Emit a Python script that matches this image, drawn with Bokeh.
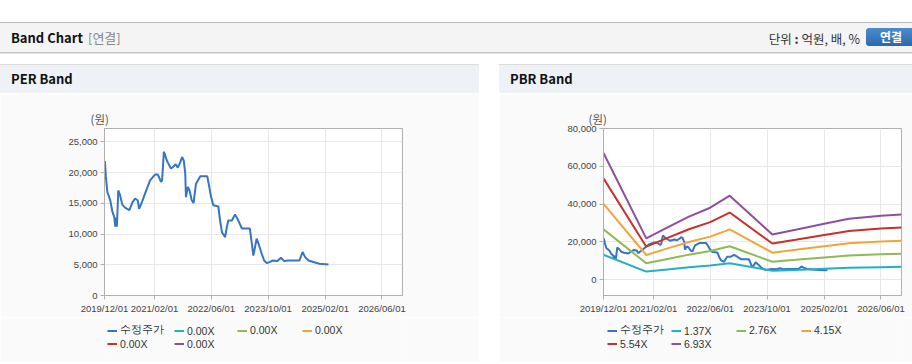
from datetime import datetime
import numpy as np
import pandas as pd
from bokeh.plotting import figure
from bokeh.models import (Range1d, FixedTicker, NumeralTickFormatter, Legend,
                          LegendItem, Div, Spacer)
from bokeh.layouts import column, row
from bokeh.embed import file_html
from bokeh.resources import INLINE

# ---------------- data ----------------
x_tick_labels = ["2019/12/01", "2021/02/01", "2022/06/01", "2023/10/01", "2025/02/01", "2026/06/01"]
x_start = "2019/12/01"
x_end = "2026/11/24"

per_y_ticks = [0, 5000, 10000, 15000, 20000, 25000]
pbr_y_ticks = [0, 20000, 40000, 60000, 80000]

price_label = "수정주가"
price_dates = [
    "2019-12-04", "2019-12-13", "2019-12-25", "2020-01-19", "2020-02-07", "2020-02-22",
    "2020-03-02", "2020-03-07", "2020-03-16", "2020-03-28", "2020-04-13", "2020-05-01",
    "2020-05-25", "2020-07-01", "2020-07-28", "2020-08-19", "2020-09-10", "2020-09-22",
    "2020-10-16", "2020-11-22", "2020-12-25", "2021-02-07", "2021-02-28", "2021-03-13",
    "2021-03-28", "2021-04-07", "2021-04-22", "2021-05-04", "2021-05-16", "2021-06-22",
    "2021-07-13", "2021-08-01", "2021-08-19", "2021-09-10", "2021-09-25", "2021-10-10",
    "2021-10-22", "2021-10-28", "2021-11-13", "2021-11-28", "2021-12-16", "2022-01-01",
    "2022-01-13", "2022-01-22", "2022-02-28", "2022-04-28", "2022-05-16", "2022-05-28",
    "2022-06-19", "2022-08-01", "2022-08-16", "2022-09-01", "2022-09-28", "2022-10-13",
    "2022-10-25", "2022-11-25", "2022-12-22", "2023-01-19", "2023-02-19", "2023-04-28",
    "2023-05-13", "2023-05-28", "2023-06-25", "2023-07-16", "2023-08-07", "2023-08-28",
    "2023-09-19", "2023-10-13", "2023-11-10", "2023-12-19", "2024-01-19", "2024-02-16",
    "2024-03-22", "2024-06-25", "2024-07-22", "2024-08-13", "2024-09-10", "2024-10-22",
    "2024-12-13", "2025-02-28",
]
price_values = [
    21900, 19300, 16850, 15500, 13600, 12800,
    11200, 12700, 11200, 17100, 16300, 14800,
    14300, 13900, 15200, 15750, 15500, 14100,
    15200, 17100, 18750, 19700, 19700, 19200,
    18500, 18750, 23400, 22800, 22000, 20650,
    21000, 21350, 20800, 21700, 22550, 21900,
    19850, 16000, 17650, 17100, 15500, 15050,
    16850, 18200, 19400, 19400, 17650, 16300,
    14700, 14500, 12200, 10300, 9500, 11150,
    12200, 12200, 13200, 12200, 10900, 10900,
    8700, 6500, 9250, 8150, 6800, 5700,
    5270, 5440, 5700, 5600, 6140, 5600,
    5700, 5700, 7070, 6250, 5700, 5440,
    5160, 5060,
]

band_dates = ["2019-12-01", "2020-12-01", "2021-06-01", "2021-12-01", "2022-06-01", "2022-11-15",
              "2023-11-15", "2024-06-01", "2025-02-01", "2025-09-01", "2026-06-01", "2026-11-24"]

pbr_band_labels = ["1.37X", "2.76X", "4.15X", "5.54X", "6.93X"]
pbr_band_1 = [13262, 4329, 5480, 6603, 7535, 8795, 4740, 5233, 5864, 6384, 6699, 6836]
pbr_band_2 = [26717, 8722, 11040, 13303, 15180, 17719, 9550, 10543, 11813, 12862, 13496, 13772]
pbr_band_3 = [40172, 13114, 16600, 20003, 22825, 26643, 14359, 15853, 17762, 19339, 20294, 20709]
pbr_band_4 = [53627, 17506, 22160, 26703, 30470, 35567, 19168, 21163, 23711, 25816, 27091, 27645]
pbr_band_5 = [67082, 21899, 27720, 33403, 38115, 44491, 23978, 26473, 29660, 32294, 33888, 34581]

per_band_labels = ["0.00X", "0.00X", "0.00X", "0.00X", "0.00X"]
per_band_zero = [0, 0, 0, 0, 0, 0, 0, 0, 0, 0, 0, 0]

unit_label = "(원)"

# ---------------- style ----------------
price_color = "#3674c4"
band_colors = ["#22b0c4", "#8dba55", "#f2a43a", "#cc2f2a", "#8e4fa2"]
PANEL_BG = "#fafafa"
AXIS_C = "#b0b0b0"
GRID_C = "#e8e8e8"
TICK_FONT = "Liberation Sans"


def to_dt(s):
    return pd.to_datetime(s.replace("/", "-"))


def make_chart(band_series, band_labels, band_visible, y_start, y_end, y_ticks,
               width, left, right, unit_offset, legend_x):
    p = figure(width=width, height=224, x_axis_type="datetime",
               x_range=Range1d(to_dt(x_start), to_dt(x_end)),
               y_range=Range1d(y_start, y_end),
               output_backend="svg", toolbar_location=None, title=unit_label,
               min_border_left=left, min_border_right=right,
               min_border_top=35, min_border_bottom=22,
               border_fill_color=PANEL_BG, background_fill_color="white",
               outline_line_color=AXIS_C)
    p.title.align = "left"
    p.title.offset = unit_offset
    p.title.standoff = 4
    p.title.text_font = "Noto Sans CJK KR"
    p.title.text_font_size = "11.5px"
    p.title.text_font_style = "normal"
    p.title.text_color = "#555555"

    tick_pos = [to_dt(t) for t in x_tick_labels]
    tick_ms = [t.value / 1e6 for t in tick_pos]
    p.xaxis.ticker = FixedTicker(ticks=tick_ms)
    p.xaxis.major_label_overrides = {ms: lab for ms, lab in zip(tick_ms, x_tick_labels)}
    p.yaxis.ticker = FixedTicker(ticks=y_ticks)
    p.yaxis.formatter = NumeralTickFormatter(format="0,0")
    p.xgrid.ticker = FixedTicker(ticks=tick_ms)
    p.ygrid.ticker = FixedTicker(ticks=y_ticks)
    p.grid.grid_line_color = GRID_C
    for ax in (p.xaxis, p.yaxis):
        ax.axis_line_color = AXIS_C
        ax.major_tick_line_color = AXIS_C
        ax.minor_tick_line_color = None
        ax.major_tick_out = 4
        ax.major_tick_in = 0
        ax.major_label_text_font = TICK_FONT
        ax.major_label_text_font_size = "9.5px"
        ax.major_label_text_color = "#444444"
        ax.major_label_standoff = 3

    pdates = [to_dt(d) for d in price_dates]
    bdates = [to_dt(d) for d in band_dates]
    p.line(pdates, price_values, line_width=2, color=price_color)
    for vals, col in zip(band_series, band_colors):
        r = p.line(bdates, vals, line_width=2, color=col)
        r.visible = band_visible

    # legend strip below the chart (its own small figure, legend-only)
    lf = figure(width=width, height=45, x_range=Range1d(0, 1), y_range=Range1d(0, 1),
                output_backend="svg", toolbar_location=None, title=None,
                min_border=0, x_axis_location=None, y_axis_location=None,
                border_fill_color=PANEL_BG, background_fill_color=PANEL_BG,
                outline_line_color=None)
    lf.grid.visible = False
    nan = [np.nan]
    r_price = lf.line(nan, nan, line_width=2, color=price_color)
    band_r = [lf.line(nan, nan, line_width=2, color=c) for c in band_colors]
    cols = [
        [(price_label, r_price), (band_labels[3], band_r[3])],
        [(band_labels[0], band_r[0]), (band_labels[4], band_r[4])],
        [(band_labels[1], band_r[1])],
        [(band_labels[2], band_r[2])],
    ]
    for lx, its in zip(legend_x, cols):
        lg = Legend(items=[LegendItem(label=lab, renderers=[r]) for lab, r in its],
                    location=(lx, 12 if len(its) == 2 else 25.5),
                    orientation="vertical", padding=0, margin=0, spacing=0,
                    glyph_width=10, glyph_height=13, label_height=13,
                    label_standoff=3, label_text_font=TICK_FONT,
                    label_text_font_size="10.5px", label_text_color="#333333",
                    background_fill_alpha=0, border_line_alpha=0,
                    click_policy="none")
        lf.add_layout(lg)
    return column(p, lf, spacing=0)


per = make_chart([per_band_zero] * 5, per_band_labels, False, 0, 27180, per_y_ticks,
                 479, 104, 77, -14, [3, 70, 133, 198])
pbr = make_chart([pbr_band_1, pbr_band_2, pbr_band_3, pbr_band_4, pbr_band_5],
                 pbr_band_labels, True, -8300, 80000, pbr_y_ticks,
                 413, 104, 11, -15, [4, 68, 133, 198])

F = "'Noto Sans CJK KR', sans-serif"
header_html = f"""
<div style="position:relative;width:912px;height:93px;overflow:hidden;background:#ffffff;font-family:{F};">
 <div style="position:absolute;left:0;top:22px;width:912px;height:1px;background:#b9b9b9"></div>
 <div style="position:absolute;left:0;top:23px;width:912px;height:29px;background:#f4f4f4"></div>
 <div style="position:absolute;left:0;top:52px;width:912px;height:1px;background:#c6c6c6"></div>
 <div style="position:absolute;left:0;top:53px;width:912px;height:1px;background:#e4e4e4"></div>
 <div style="position:absolute;left:11px;top:23px;height:29px;line-height:29px;font-size:13px;font-weight:bold;color:#111">Band Chart</div>
 <div style="position:absolute;left:88px;top:23px;height:29px;line-height:29px;font-size:13px;color:#888">[연결]</div>
 <div style="position:absolute;right:52px;top:24px;height:29px;line-height:29px;font-size:12.5px;color:#333">단위 <b>:</b> 억원, 배, %</div>
 <div style="position:absolute;left:866px;top:28px;width:50px;height:18px;border-radius:3px;background:linear-gradient(#4d8bd1,#2d68aa);"></div>
 <div style="position:absolute;left:877px;top:28px;width:28px;height:18px;line-height:18px;text-align:center;font-size:12px;font-weight:bold;color:#ffffff">연결</div>
 <div style="position:absolute;left:0;top:64px;width:479px;height:1px;background:#dcdcdc"></div>
 <div style="position:absolute;left:0;top:65px;width:479px;height:28px;background:#eef2f7"></div>
 <div style="position:absolute;left:499px;top:64px;width:413px;height:1px;background:#dcdcdc"></div>
 <div style="position:absolute;left:499px;top:65px;width:413px;height:28px;background:#eef2f7"></div>
 <div style="position:absolute;left:11px;top:65px;height:28px;line-height:28px;font-size:13px;font-weight:bold;color:#111">PER Band</div>
 <div style="position:absolute;left:510px;top:65px;height:28px;line-height:28px;font-size:13px;font-weight:bold;color:#111">PBR Band</div>
</div>
"""
header = Div(text=header_html, width=912, height=93, margin=0)
footer = Div(text='<div style="width:912px;height:1px;background:#d6d6d6"></div>',
             width=912, height=2, margin=0)

layout = column(header,
                row(per, Spacer(width=20, height=269, margin=0), pbr, spacing=0),
                footer, spacing=0)

open("out.html", "w").write(file_html(layout, INLINE))
